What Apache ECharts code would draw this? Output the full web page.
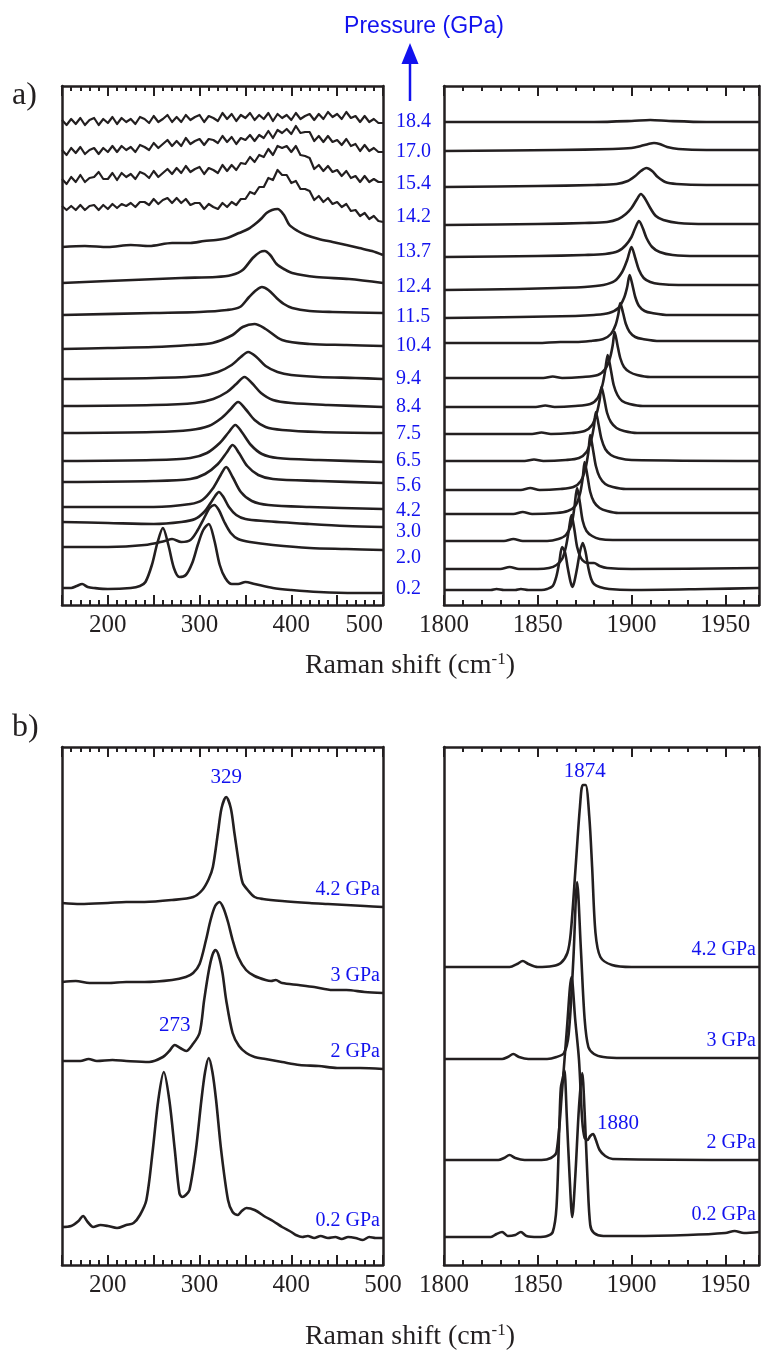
<!DOCTYPE html>
<html><head><meta charset="utf-8">
<script src="https://cdn.jsdelivr.net/npm/echarts@6/dist/echarts.min.js"></script>
<style>html,body{margin:0;padding:0;background:#fff}#c{width:762px;height:1351px}</style>
</head><body><div id="c"></div><script>
// ---------------- DATA ----------------
// Panel a: pressures (GPa), stacking baselines (a.u.) for low- and high-frequency windows
const pressureLabelsA = ['0.2','2.0','3.0','4.2','5.6','6.5','7.5','8.4','9.4','10.4','11.5','12.4','13.7','14.2','15.4','17.0','18.4'];
const baseLowA  = [17,58,83,98,123,144,172,199,226,256,290,322,358,397,424,453,483];
const baseHighA = [15,36,64,91,115,144,171,198,227,262,287,315,348,380,418,454,483];

// Panel a, low-frequency window: [Raman shift, intensity above baseline]
const lowA = [
 [[150,0],[160,0],[166,2],[172,4],[178,1],[185,0],[200,-1],[225,0],[235,2],[241,6],[248,23],[254,45],[260,60],[266,43],[272,20],[278,11],[285,13],[292,25],[298,43],[304,58],[310,64],[316,48],[322,23],[328,10],[335,4],[342,4],[350,6],[360,4],[380,0],[400,-2],[430,-4],[470,-5],[500,-5]],
 [[150,0],[200,0],[240,2],[262,6],[270,8],[280,5],[290,7],[298,17],[305,29],[311,39],[316,42],[321,37],[327,25],[334,14],[342,8],[355,5],[380,2],[420,-1],[460,-2],[500,-3]],
 [[150,0],[200,-1],[250,-2],[280,0],[295,3],[305,10],[312,19],[317,26],[321,30],[326,25],[332,15],[340,7],[350,3],[370,1],[420,-2],[460,-4],[500,-5]],
 [[150,0],[250,0],[290,3],[303,7],[314,18],[323,32],[329,40],[336,30],[345,15],[357,6],[375,2],[420,0],[500,-2]],
 [[150,0],[250,1],[290,3],[306,8],[320,18],[330,30],[336,37],[343,29],[352,16],[364,7],[380,3],[430,1],[500,-1]],
 [[150,0],[250,1],[290,3],[308,8],[322,18],[332,29],[339,36],[346,29],[356,16],[368,7],[385,3],[430,1],[500,-1]],
 [[150,0],[250,1],[290,3],[310,7],[324,15],[334,24],[342,31],[350,24],[360,13],[372,6],[390,3],[430,1],[500,0]],
 [[150,0],[250,1],[295,3],[315,7],[330,14],[340,22],[349,29],[357,23],[367,13],[380,6],[400,3],[440,1],[500,-1]],
 [[150,0],[250,1],[300,3],[320,7],[335,14],[345,22],[353,27],[362,22],[372,13],[385,7],[400,4],[430,2],[470,1],[500,0]],
 [[150,0],[200,1],[250,2],[290,4],[314,6],[336,14],[347,22],[360,25],[372,20],[390,9],[420,5],[460,4],[500,3]],
 [[150,0],[250,2],[300,3],[330,5],[344,8],[354,18],[362,25],[368,28],[375,25],[384,17],[392,11],[401,7],[420,4],[445,3],[500,2]],
 [[150,0],[227,3],[280,5],[318,6],[335,8],[347,13],[358,25],[366,31],[371,32],[377,28],[384,19],[392,14],[401,10],[427,6],[463,4],[500,0]],
 [[150,0],[175,1],[200,0],[225,2],[245,1],[270,4],[290,4],[305,6],[318,7],[330,9],[343,14],[353,18],[362,24],[368,29],[373,34],[379,37],[385,38],[392,32],[398,22],[407,16],[416,12],[430,8],[445,5],[460,2],[474,-1],[488,-4],[500,-8]]
];
// noisy high-pressure spectra (14.2, 15.4, 17.0, 18.4 GPa), sampled on noisyShift
const noisyShift = [150,155,160,165,170,175,180,185,190,195,200,205,210,215,220,225,230,235,240,245,250,255,260,265,270,275,280,285,290,295,300,305,310,315,320,325,330,335,340,345,350,355,360,365,370,375,380,385,390,395,400,405,410,415,420,425,430,435,440,445,450,455,460,465,470,475,480,485,490,495,500];
const lowA_142 = [2,-2,2,-2,3,-2,2,3,-2,3, -1,4,0,4,2,5,1,6,6,3, 9,4,8,10,5,10,5,9,3,5, 5,-1,4,1,-1,5,1,6,3,9, 9,16,14,21,21,30,28,38,33,33, 25,27,19,19,17,8,12,6,10,4, 6,1,4,-3,-2,-8,-5,-11,-8,-13, -14];
const lowA_154 = [2,-3,4,-1,6,-1,3,4,9,2, 2,8,1,8,4,7,2,9,7,3, 10,4,8,12,7,13,8,15,9,12, 14,7,13,11,8,16,10,16,11,18, 17,24,19,26,24,32,26,35,33,35, 29,35,26,25,23,12,16,10,15,9, 11,5,10,3,5,-1,5,-1,2,-1, -1];
const lowA_170 = [2,-3,4,-1,5,-2,2,4,-2,4, 0,6,0,6,2,5,0,7,5,2, 9,4,8,12,6,11,6,14,8,11, 13,7,13,12,9,16,10,15,8,14, 12,17,11,17,14,21,14,22,19,23, 18,26,19,20,20,11,16,10,16,10, 12,7,13,6,8,1,7,1,4,0, 0];
const lowA_184 = [2,-3,3,-2,4,-3,2,4,-3,3, -1,5,-2,4,0,3,-2,5,3,-1, 6,0,3,7,0,5,0,7,2,5, 7,0,6,4,1,9,3,8,1,7, 4,9,2,7,3,9,1,8,4,7, 2,9,3,6,8,2,8,3,10,5, 8,3,10,4,6,0,6,0,3,-1, -1];

// Panel a, high-frequency window
const highA = [
 [[1800,0],[1820,0],[1825,0],[1828,1],[1832,0],[1838,0],[1841,1],[1845,0],[1852,0],[1855,1],[1858,4],[1860,14],[1861.5,28],[1863,43],[1864.5,38],[1866,22],[1867.5,8],[1868.5,3],[1869.5,8],[1871,22],[1872.5,38],[1874,47],[1875.5,38],[1877,22],[1878.5,11],[1880,6],[1883,3],[1888,1],[1900,0],[1940,1],[1968,2]],
 [[1800,0],[1830,0],[1835,2],[1840,0],[1850,0],[1856,1],[1860,4],[1863,10],[1865,22],[1866.5,38],[1868,54],[1869.5,40],[1871,22],[1873,11],[1875,7],[1877,6],[1880,6],[1883,3],[1887,1],[1900,0],[1968,1]],
 [[1800,0],[1832,0],[1837,2],[1842,0],[1855,0],[1861,2],[1865,6],[1868,17],[1869.5,33],[1871,53],[1872.5,38],[1874,20],[1876,10],[1879,5],[1883,2],[1890,1],[1968,1]],
 [[1800,0],[1837,0],[1842,2],[1847,0],[1860,1],[1866,3],[1870,8],[1872.5,20],[1874,36],[1875,52],[1876.5,38],[1878,22],[1880,12],[1883,6],[1887,3],[1893,1],[1968,1]],
 [[1800,0],[1841,0],[1846,2],[1851,0],[1862,1],[1869,3],[1873,9],[1875.5,22],[1877,38],[1878,55],[1879.5,40],[1881,24],[1883,13],[1886,6],[1890,3],[1897,1],[1968,1]],
 [[1800,0],[1843,0],[1848,1.5],[1853,0],[1865,1],[1872,3],[1876,9],[1878.5,21],[1880,35],[1881,49],[1882.5,36],[1884,22],[1886,12],[1889,6],[1893,3],[1900,1],[1968,0]],
 [[1800,0],[1847,0],[1852,1.5],[1857,0],[1868,1],[1875,3],[1879,9],[1881.5,21],[1883,34],[1884,47],[1885.5,35],[1887,21],[1889,12],[1892,6],[1896,3],[1903,1],[1968,1]],
 [[1800,0],[1849,0],[1854,1.5],[1859,0],[1870,1],[1878,3],[1882,9],[1884.5,22],[1886,37],[1887.3,52],[1889,37],[1890.5,22],[1892.5,12],[1895,6],[1899,3],[1906,1],[1968,1]],
 [[1800,0],[1853,0],[1858,1.5],[1863,0],[1874,1],[1882,3],[1886,9],[1888.5,20],[1890,33],[1891,46],[1892.5,33],[1894,20],[1896,11],[1899,6],[1903,3],[1910,1],[1968,1]],
 [[1800,0],[1850,0],[1862,1],[1870,1],[1878,2],[1885,4],[1889,9],[1891.5,18],[1893,29],[1894,40],[1895.5,30],[1897,19],[1899,11],[1902,6],[1906,4],[1915,2],[1968,2]],
 [[1800,0],[1840,1],[1870,2],[1880,3],[1888,5],[1893,10],[1896,20],[1897.7,31],[1899,43],[1900.5,33],[1902,21],[1904,12],[1907,7],[1911,5],[1920,3],[1968,3]],
 [[1800,0],[1840,1],[1860,2],[1875,3],[1885,5],[1891,9],[1895,18],[1897.7,30],[1900,43],[1902,32],[1904,20],[1906.5,12],[1910,8],[1915,6],[1925,5],[1968,5]],
 [[1800,0],[1850,1],[1875,2],[1886,3],[1893,6],[1897,12],[1900,20],[1902,29],[1904,36],[1906,29],[1908,19],[1911,10],[1915,5],[1922,2],[1935,1],[1968,1]],
 [[1800,0],[1850,1],[1875,2],[1887,3],[1893,6],[1897,11],[1900,17],[1903,26],[1905,31],[1907,27],[1910,17],[1913,9],[1917,5],[1925,2],[1940,1],[1968,1]],
 [[1800,0],[1850,1],[1880,2],[1892,3],[1898,6],[1902,11],[1905,16],[1908,19],[1911,16],[1914,10],[1918,5],[1924,3],[1940,2],[1968,2]],
 [[1800,0],[1860,1],[1890,2],[1900,3],[1905,5],[1909,7],[1912,8],[1915,7],[1919,4],[1925,2],[1940,1],[1968,1]],
 [[1800,0],[1880,0],[1900,1],[1910,2],[1920,1],[1940,0],[1968,0]]
];

// Panel b
const pressureLabelsB = ['0.2 GPa','2 GPa','3 GPa','4.2 GPa'];
const baseLowB  = [38,204,283,362];
const baseHighB = [28,105,206,298];
const lowB = [
 [[150,0],[160,1],[168,6],[173,11],[178,5],[184,0],[192,2],[200,1],[210,-1],[220,2],[228,4],[235,12],[242,27],[249,77],[255,127],[261,155],[267,127],[273,77],[278,34],[281,30],[285,32],[289,37],[296,77],[302,127],[306,155],[310,169],[314,155],[318,127],[323.5,77],[331,27],[336,15],[341.6,12],[346,16],[351,19],[360,17],[372,10],[380,6],[390,0],[400,-5],[405,-8],[412,-10],[418,-9],[425,-11],[432,-9],[440,-11],[448,-10],[455,-12],[462,-10],[470,-11],[478,-13],[485,-10],[492,-11],[500,-11]],
 [[150,0],[170,0],[179,2],[188,0],[205,1],[220,0],[245,-1],[260,4],[267,10],[273,16],[279,13],[285.5,10],[292,16],[300,28],[305,61],[310,90],[314,106],[317.4,111],[321,105],[325,88],[329,61],[336,28],[343,15],[351,8],[360,4],[372,2],[390,-1],[409,-4],[430,-5],[450,-7],[475,-7],[500,-8]],
 [[150,0],[165,1],[180,-1],[200,-1],[220,0],[240,0],[270,2],[285,5],[293,9],[300,18],[307,42],[312,62],[317,76],[321.7,80],[326,74],[331,60],[336,42],[342,25],[350.7,12],[360,6],[372,2],[378,1],[383,2],[390,-1],[408,-3],[425,-5],[445,-8],[460,-8],[480,-10],[500,-11]],
 [[150,0],[170,-1],[200,0],[220,1],[240,1],[270,3],[293,6],[303,13],[310,24],[314.5,36],[320,70],[324,95],[329,106],[334,95],[338,70],[343.5,36],[347,20],[352.5,13],[360,6],[369,4],[390,2],[420,0],[440,-1],[460,-2],[480,-3],[500,-4]]
];
const highB = [
 [[1800,0],[1825,0],[1828,3],[1831,5],[1834,1],[1838,2],[1841,5],[1844,1],[1850,0],[1855,1],[1858,5],[1860,30],[1861.5,110],[1862.3,149],[1863.5,160],[1864.2,167],[1865.5,120],[1867,60],[1868.4,20],[1870,60],[1872,130],[1873.7,164],[1875,125],[1876.5,60],[1878,12],[1880,4],[1885,1],[1900,1],[1930,2],[1950,4],[1955,6],[1960,4],[1968,5]],
 [[1800,0],[1829,0],[1832,2],[1835,5],[1838,2],[1843,0],[1852,0],[1857,2],[1860,8],[1863,70],[1865.5,130],[1868,183],[1870,140],[1872,100],[1873.7,40],[1875,22],[1876.5,20],[1878,24],[1879.5,26],[1881,20],[1883,10],[1886,4],[1890,1],[1968,0]],
 [[1800,0],[1831,0],[1834,2],[1837,5],[1840,2],[1845,0],[1855,0],[1860,2],[1864,6],[1866.5,25],[1869,100],[1871,177],[1873,110],[1875,40],[1877,12],[1880,5],[1885,2],[1895,1],[1968,1]],
 [[1800,0],[1835,0],[1839,3],[1842,6],[1845,3],[1850,0],[1858,1],[1862.3,4],[1865.8,14],[1867.6,34],[1870.2,100],[1872.5,160],[1874,182],[1875.5,182],[1877.5,150],[1879,100],[1880.8,34],[1883.4,10],[1889.6,2],[1900,0],[1968,0]]
];
// peak annotations: [text, panel grid, shift, stacked intensity]
const peakNotes = [['329',2,329,468],['273',2,273,220],['1874',3,1875,480],['1880',3,1879.5,131]];

// ---------------- LAYOUT / STYLE ----------------
const ink = '#231f20', blue = '#1212ee';
const serif = 'Liberation Serif';
const gridsPos = [
  {left:62, top:86, width:321, height:519},
  {left:444, top:86, right:1, height:519},
  {left:62, top:747, width:321, height:518},
  {left:444, top:747, right:1, height:518}
];
const xRange = [[150,500],[1800,1968],[150,500],[1800,1968]];
const yTop = [519,519,518,518];
const noteOffsets = [[0,-20,'center'],[0,-20,'center'],[0,-14,'center'],[4,-11,'left']];

const xAxis = [], yAxis = [];
const lineAx = {color:ink, width:2.5};
gridsPos.forEach((gp, g) => {
  const low = g % 2 === 0;
  const base = {type:'value', gridIndex:g, min:xRange[g][0], max:xRange[g][1], splitLine:{show:false}};
  xAxis.push(Object.assign({}, base, {position:'bottom', interval:50,
    axisLine:{show:true, onZero:false, lineStyle:lineAx},
    axisTick:{show:true, inside:true, length:10, lineStyle:{color:ink, width:2}},
    axisLabel:{show:true, margin:8, color:ink, fontFamily:serif, fontSize:25,
      alignMaxLabel: g === 0 ? 'right' : null,
      formatter: v => low ? (v % 100 === 0 ? String(v) : '') : (v % 50 === 0 ? String(v) : '')}}));
  xAxis.push(Object.assign({}, base, {position:'bottom', interval:10,
    axisLine:{show:false, onZero:false},
    axisTick:{show:true, inside:true, length:5, lineStyle:{color:ink, width:2}},
    axisLabel:{show:false}}));
  xAxis.push(Object.assign({}, base, {position:'top', interval:50,
    axisLine:{show:true, onZero:false, lineStyle:lineAx},
    axisTick:{show:true, inside:true, length:10, lineStyle:{color:ink, width:2}},
    axisLabel:{show:false}}));
  xAxis.push(Object.assign({}, base, {position:'top', interval:10,
    axisLine:{show:false, onZero:false},
    axisTick:{show:true, inside:true, length:5, lineStyle:{color:ink, width:2}},
    axisLabel:{show:false}}));
  ['left','right'].forEach(pos => yAxis.push({type:'value', gridIndex:g, min:0, max:yTop[g], position:pos,
    axisLine:{show:true, onZero:false, lineStyle:lineAx}, axisTick:{show:false}, axisLabel:{show:false}, splitLine:{show:false}}));
});

const noisyA = [lowA_142, lowA_154, lowA_170, lowA_184].map(vals => noisyShift.map((x, i) => [x, vals[i]]));
const lowAAll = lowA.concat(noisyA);

const series = [];
const firstSeries = [];
function addTraces(g, traces, bases, noisyFrom) {
  firstSeries[g] = series.length;
  traces.forEach((tr, i) => {
    const noisy = noisyFrom != null && i >= noisyFrom;
    series.push({type:'line', xAxisIndex:4*g, yAxisIndex:2*g,
      data: tr.map(p => [p[0], p[1] + bases[i]]),
      showSymbol:false, symbol:'none', smooth: noisy ? false : 0.3,
      lineStyle:{color:ink, width: noisy ? 2.2 : 2.6, join:'round'}, silent:true, animation:false});
  });
}
addTraces(0, lowAAll, baseLowA, 13);
addTraces(1, highA, baseHighA, null);
addTraces(2, lowB, baseLowB, null);
addTraces(3, highB, baseHighB, null);

const chart = echarts.init(document.getElementById('c'));
chart.setOption({animation:false, backgroundColor:'#fff', grid:gridsPos, xAxis, yAxis, series});

function px(g, x, y) { return chart.convertToPixel({seriesIndex:firstSeries[g]}, [x, y]); }
function txt(x, y, text, size, color, family, align, extra) {
  return {type:'text', x, y, silent:true, style:Object.assign({text, fill:color, fontSize:size, fontFamily:family,
    align, textAlign:align, verticalAlign:'middle', textVerticalAlign:'middle'}, extra || {})};
}
const gfx = [];
pressureLabelsA.forEach((t, i) => {
  const p = px(0, 150, (baseLowA[i] + baseHighA[i]) / 2);
  gfx.push(txt(396, p[1], t, 20, blue, serif, 'left'));
});
[[2, lowB, baseLowB], [3, highB, baseHighB]].forEach(([g, traces, bases]) => {
  traces.forEach((tr, i) => {
    const last = tr[tr.length - 1];
    const p = px(g, last[0], last[1] + bases[i]);
    gfx.push(txt(p[0] - 3, p[1] - 17, pressureLabelsB[i], 20, blue, serif, 'right'));
  });
});
peakNotes.forEach((n, k) => {
  const p = px(n[1], n[2], n[3]);
  const o = noteOffsets[k];
  gfx.push(txt(p[0] + o[0], p[1] + o[1], n[0], 21, blue, serif, o[2]));
});
gfx.push(txt(12, 96, 'a)', 32, ink, serif, 'left'));
gfx.push(txt(12, 728, 'b)', 32, ink, serif, 'left'));
gfx.push(txt(424, 27, 'Pressure (GPa)', 23, blue, 'Liberation Sans', 'center'));
gfx.push({type:'line', silent:true, shape:{x1:410, y1:101, x2:410, y2:60}, style:{stroke:blue, lineWidth:2.5}});
gfx.push({type:'polygon', silent:true, shape:{points:[[410,43],[401.5,64],[418.5,64]]}, style:{fill:blue}});
const richTitle = {
  m:{fontSize:28, fontFamily:serif, fill:ink, color:ink, lineHeight:30},
  s:{fontSize:17, fontFamily:serif, fill:ink, color:ink, lineHeight:17, verticalAlign:'top'}
};
[666, 1337].forEach(y => gfx.push(txt(410, y, '{m|Raman shift (cm}{s|-1}{m|)}', 28, ink, serif, 'center', {rich:richTitle})));
chart.setOption({graphic:{elements:gfx}});
</script></body></html>
